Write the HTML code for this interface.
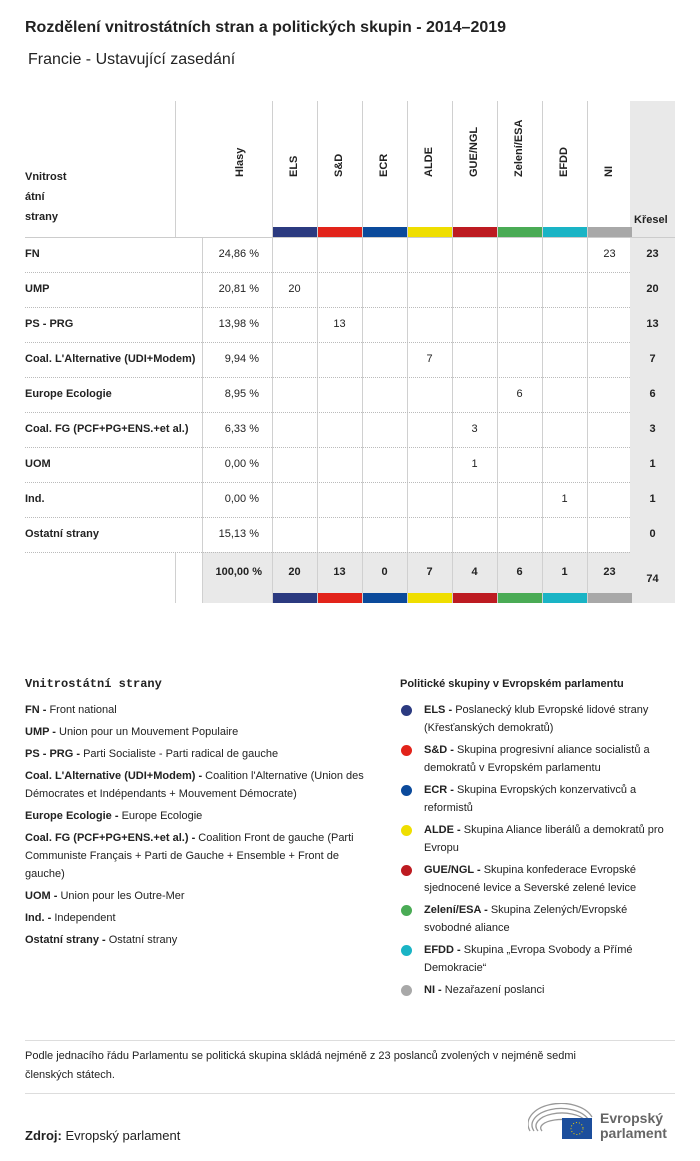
<!DOCTYPE html>
<html><head><meta charset="utf-8">
<style>
body{margin:0;width:700px;height:1161px;background:#fff;font-family:"Liberation Sans",sans-serif;color:#222;position:relative;overflow:hidden}
.a{position:absolute;white-space:nowrap}
.t{font-size:11px}
.b{font-weight:bold}
.vl{position:absolute;width:1px;background:#d0d0d0}
.hl{position:absolute;height:0;border-top:1px dotted #bbb}
.rot{position:absolute;font-size:11px;font-weight:bold;transform:rotate(-90deg);transform-origin:left top;white-space:nowrap}
.leg{position:absolute;font-size:11px;line-height:18px}
.dot{position:absolute;width:11px;height:11px;border-radius:50%}
</style></head><body>
<div class="a b" style="left:25px;top:19px;font-size:16px">Rozdělení vnitrostátních stran a politických skupin - 2014–2019</div>
<div class="a" style="left:28px;top:51px;font-size:16px">Francie - Ustavující zasedání</div>

<div id="tbl"></div>

<div class="a b" style="left:25px;top:677px;font-family:'Liberation Mono',monospace;font-size:12px">Vnitrostátní strany</div>
<div class="leg" style="left:25px;top:701px;width:345px">
<div style="margin-bottom:4px"><b>FN -</b> Front national</div>
<div style="margin-bottom:4px"><b>UMP -</b> Union pour un Mouvement Populaire</div>
<div style="margin-bottom:4px"><b>PS - PRG -</b> Parti Socialiste - Parti radical de gauche</div>
<div style="margin-bottom:4px"><b>Coal. L'Alternative (UDI+Modem) -</b> Coalition l'Alternative (Union des Démocrates et Indépendants + Mouvement Démocrate)</div>
<div style="margin-bottom:4px"><b>Europe Ecologie -</b> Europe Ecologie</div>
<div style="margin-bottom:4px"><b>Coal. FG (PCF+PG+ENS.+et al.) -</b> Coalition Front de gauche (Parti Communiste Français + Parti de Gauche + Ensemble + Front de gauche)</div>
<div style="margin-bottom:4px"><b>UOM -</b> Union pour les Outre-Mer</div>
<div style="margin-bottom:4px"><b>Ind. -</b> Independent</div>
<div><b>Ostatní strany -</b> Ostatní strany</div>
</div>
<div class="a b t" style="left:400px;top:678px">Politické skupiny v Evropském parlamentu</div>
<div id="glegend"></div>

<div class="a" style="left:25px;top:1040px;width:650px;border-top:1px solid #ddd"></div>
<div class="leg" style="left:25px;top:1047px;width:600px;line-height:19px">Podle jednacího řádu Parlamentu se politická skupina skládá nejméně z 23 poslanců zvolených v nejméně sedmi členských státech.</div>
<div class="a" style="left:25px;top:1093px;width:650px;border-top:1px solid #ddd"></div>
<div class="a" style="left:25px;top:1128px;font-size:13px"><b>Zdroj:</b> Evropský parlament</div>
<svg class="a" style="left:528px;top:1103px" width="150" height="40">
<g fill="none" stroke="#999" stroke-width="1.3">
<path d="M2 28 A32 20 0 0 1 64 14"/><path d="M6 28 A28 16 0 0 1 60 16"/><path d="M10 28 A24 12 0 0 1 58 18"/><path d="M14 28 A20 8 0 0 1 54 22"/>
</g>
<rect x="34" y="15" width="30" height="21" fill="#1c4e9c"/>
<circle cx="49" cy="25.5" r="6" fill="none" stroke="#f2d100" stroke-dasharray="1 2"/>
<text x="72" y="20" font-family="Liberation Sans" font-weight="bold" font-size="14" fill="#666">Evropský</text>
<text x="72" y="35" font-family="Liberation Sans" font-weight="bold" font-size="14" fill="#666">parlament</text>
</svg>

<script>
const groups=["ELS","S&D","ECR","ALDE","GUE/NGL","Zelení/ESA","EFDD","NI"];
const groupColors=["#2b3a80","#e2231a","#0b4a9b","#efde00","#bd1b21","#4aab55","#1ab4c5","#a8a8a8"];
const parties=["FN","UMP","PS - PRG","Coal. L'Alternative (UDI+Modem)","Europe Ecologie","Coal. FG (PCF+PG+ENS.+et al.)","UOM","Ind.","Ostatní strany"];
const votes=["24,86 %","20,81 %","13,98 %","9,94 %","8,95 %","6,33 %","0,00 %","0,00 %","15,13 %"];
// seats: [partyIndex][groupIndex]
const seats=[
[0,0,0,0,0,0,0,23],
[20,0,0,0,0,0,0,0],
[0,13,0,0,0,0,0,0],
[0,0,0,7,0,0,0,0],
[0,0,0,0,0,6,0,0],
[0,0,0,0,3,0,0,0],
[0,0,0,0,1,0,0,0],
[0,0,0,0,0,0,1,0],
[0,0,0,0,0,0,0,0]];
const totalVotes="100,00 %";
const groupDesc=["Poslanecký klub Evropské lidové strany (Křesťanských demokratů)","Skupina progresivní aliance socialistů a demokratů v Evropském parlamentu","Skupina Evropských konzervativců a reformistů","Skupina Aliance liberálů a demokratů pro Evropu","Skupina konfederace Evropské sjednocené levice a Severské zelené levice","Skupina Zelených/Evropské svobodné aliance","Skupina „Evropa Svobody a Přímé Demokracie“","Nezařazení poslanci"];

const T=document.getElementById('tbl');
const colX=i=>272+i*45, colW=45, kX=630, rowY=i=>237+i*35, rowH=35;
function mk(cls,css,txt){const d=document.createElement('div');d.className=cls;d.style.cssText=css;if(txt!=null)d.textContent=txt;T.appendChild(d);return d;}
let e=mk('a','left:630px;top:101px;width:45px;height:502px;background:#e9e9e9');


e=mk('a','left:202px;top:552px;width:428px;height:51px;background:#e9e9e9');


{const l=mk('vl','left:175px;top:101px;height:136px');}
{const l=mk('vl','left:175px;top:552px;height:51px');}
{const l=mk('vl','left:202px;top:237px;height:366px');}
for(let i=0;i<8;i++){const l=mk('vl',`left:${colX(i)}px;top:101px;height:502px`);}
e=mk('a t b','left:25px;top:167px;line-height:20px;white-space:normal','');
e.innerHTML='Vnitrost<br>átní<br>strany';


e=mk('rot','left:234px;top:177px','Hlasy');


e=mk('a t b','left:634px;top:214px','Křesel');


groups.forEach((g,i)=>{
  const h=mk('rot',`left:${colX(i)+16}px;top:177px`,g);
  
  
  const b=mk('a',`left:${colX(i)+1}px;top:227px;width:${colW-1}px;height:10px;background:${groupColors[i]}`);
  
  
  const b2=mk('a',`left:${colX(i)+1}px;top:593px;width:${colW-1}px;height:10px;background:${groupColors[i]}`);
  
  
});
{const l=mk('a','left:25px;top:237px;width:650px;border-top:1px solid #ccc');}
parties.forEach((p,r)=>{
  const y=rowY(r);
  if(r>0){const l=mk('hl',`left:25px;top:${y}px;width:605px`);}
  let c=mk('a t b',`left:25px;top:${y+11}px`,p);
  
  
  c=mk('a t',`left:202px;width:57px;text-align:right;top:${y+11}px`,votes[r]);
  
  
  let tot=0;
  seats[r].forEach((s,g)=>{tot+=s;if(s){const v=mk('a t',`left:${colX(g)}px;width:${colW}px;text-align:center;top:${y+11}px`,String(s));
    
    }});
  c=mk('a t b',`left:${kX}px;width:45px;text-align:center;top:${y+11}px`,String(tot));
  
  
});
{const l=mk('hl','left:25px;top:552px;width:605px');}
let grand=0;
e=mk('a t b','left:202px;width:60px;text-align:right;top:566px',totalVotes);


groups.forEach((g,i)=>{let s=0;seats.forEach(r=>s+=r[i]);grand+=s;
  const c=mk('a t b',`left:${colX(i)}px;width:${colW}px;text-align:center;top:566px`,String(s));
  
  });
e=mk('a t b','left:630px;width:45px;text-align:center;top:573px',String(grand));



const G=document.getElementById('glegend');
groups.forEach((g,i)=>{
  const y=701+i*40;
  const d=document.createElement('div');d.className='dot';d.style.cssText=`left:401px;top:${y+4}px;background:${groupColors[i]}`;
  
  
  G.appendChild(d);
  const t=document.createElement('div');t.className='leg';t.style.cssText=`left:424px;top:${y}px;width:245px`;
  t.innerHTML='<b></b> ';t.firstChild.textContent=g+' -';t.appendChild(document.createTextNode(groupDesc[i]));
  
  
  G.appendChild(t);
});
</script>
</body></html>
